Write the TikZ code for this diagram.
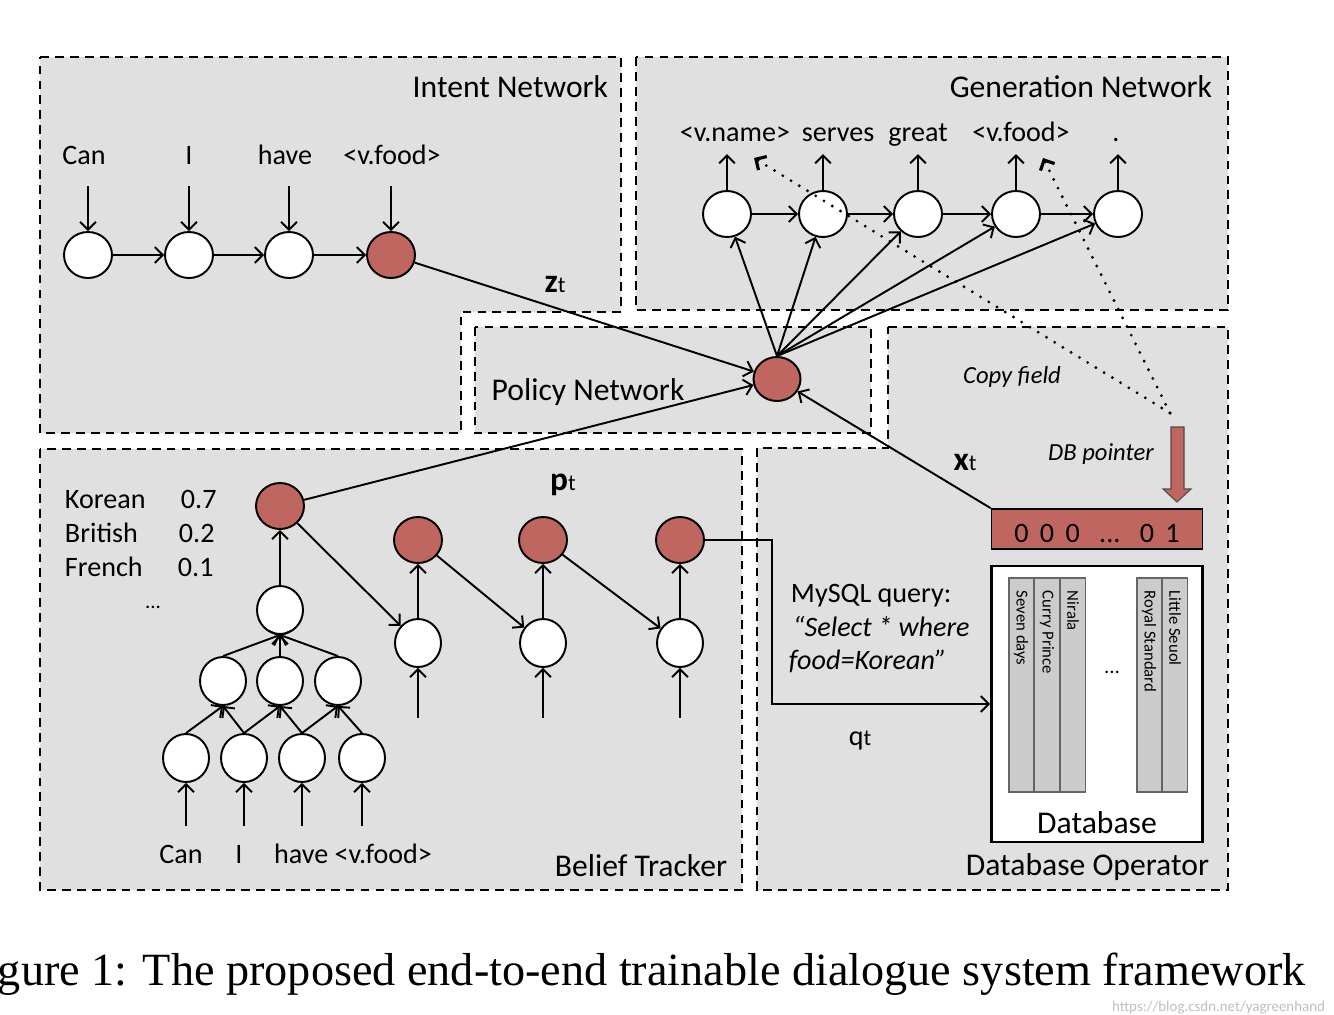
\documentclass[tikz,border=0pt]{standalone}
\usepackage{fontspec}
\setmainfont{Carlito}
\newfontfamily\captionfont{Liberation Serif}
\usetikzlibrary{arrows.meta,shapes.geometric}
\definecolor{nodered}{RGB}{192,102,96}
\definecolor{regiongray}{RGB}{224,224,224}
\definecolor{columngray}{RGB}{204,204,204}
\newcommand\timelab[1]{{\bfseries\fontsize{19}{21}\selectfont #1}{\fontsize{13}{15}\selectfont t}}
\tikzset{
  region/.style={fill=regiongray,draw=black,line width=1.1pt,dash pattern=on 5pt off 3.5pt},
  rnn/.style={ellipse,draw,fill=white,line width=1.1pt,minimum width=0.96cm,minimum height=0.92cm,inner sep=0pt},
  rnnred/.style={rnn,fill=nodered},
  tall/.style={minimum width=0.92cm,minimum height=0.96cm},
  title/.style={inner sep=0pt,anchor=base,font=\fontsize{18}{21}\selectfont},
  word/.style={inner sep=0pt,anchor=base,font=\fontsize{16}{19}\selectfont},
  remark/.style={inner sep=0pt,anchor=base,font=\fontsize{14}{17}\selectfont\itshape},
  colname/.style={rotate=-90,anchor=west,inner sep=0pt,font=\fontsize{9.5}{11}\selectfont},
  dbcolumn/.style={fill=columngray,draw=black!60,line width=0.6pt},
  copyline/.style={dash pattern=on 0pt off 5.5pt,line cap=round,line width=1.8pt},
}
\begin{document}
\begin{tikzpicture}[x=0.02cm,y=-0.02cm,line width=1.1pt,>={Straight Barb[length=4.5pt,width=9pt]}]
  \useasboundingbox (0,0) rectangle (1334,1014);
  \fill[white] (0,0) rectangle (1334,1014);

  \path[region] (40,57) -- (621,57) -- (621,312) -- (461,312) -- (461,433) -- (40,433) -- cycle;
  \path[region] (636,57) rectangle (1228,310);
  \path[region] (475,327) rectangle (871,433);
  \path[region] (888,327) -- (1228,327) -- (1228,890) -- (757,890) -- (757,448) -- (888,448) -- cycle;
  \path[region] (40,449) rectangle (742,890);

  \begin{scope}[every node/.style=title]
    \node[anchor=base east] (intent) at (609,97) {Intent Network};
    \node[anchor=base east] (generation) at (1213,97) {Generation Network};
    \node (policy) at (588,400) {Policy Network};
    \node[anchor=base east] (belief) at (728,876) {Belief Tracker};
    \node[anchor=base east] (operator) at (1210,875) {Database Operator};
  \end{scope}

  \begin{scope}[every node/.style=rnn]
    \node (i1) at (88,255) {};
    \node (i2) at (189,255) {};
    \node (i3) at (289,255) {};
    \node[rnnred] (i4) at (391,255) {};
    \node (g1) at (727,214) {};
    \node (g2) at (823,214) {};
    \node (g3) at (918,214) {};
    \node (g4) at (1016,214) {};
    \node (g5) at (1118,214) {};
    \node[rnnred,minimum width=0.94cm,minimum height=0.88cm] (p) at (777,379) {};
  \end{scope}

  \begin{scope}[every node/.style={rnn,tall}]
    \node (t1) at (186,758) {};
    \node (t2) at (244,758) {};
    \node (t3) at (302,758) {};
    \node (t4) at (362,758) {};
    \node (m1) at (223,681) {};
    \node (m2) at (280,681) {};
    \node (m3) at (338,681) {};
    \node (r0) at (280,610) {};
    \node[rnnred] (s1) at (280,506) {};
    \node[rnnred] (s2) at (418,540) {};
    \node[rnnred] (s3) at (543,540) {};
    \node[rnnred] (s4) at (680,540) {};
    \node (u1) at (418,643) {};
    \node (u2) at (543,643) {};
    \node (u3) at (680,643) {};
  \end{scope}

  \begin{scope}[every node/.style=word]
    \node (wi1) at (84,164) {Can};
    \node (wi2) at (189,164) {I};
    \node (wi3) at (285,164) {have};
    \node (wi4) at (392,164) {<v.food>};
    \node (wg1) at (735,141) {<v.name>};
    \node (wg2) at (838,141) {serves};
    \node (wg3) at (918,141) {great};
    \node (wg4) at (1021,141) {<v.food>};
    \node (wg5) at (1116,141) {.};
    \node (wb1) at (181,863) {Can};
    \node (wb2) at (239,863) {I};
    \node (wb3) at (353,863) {have <v.food>};
    \node[anchor=base west] (k1) at (64,508) {Korean};
    \node[anchor=base west] (k2) at (64,542) {British};
    \node[anchor=base west] (k3) at (64,576) {French};
    \node[anchor=base west] (v1) at (180,508) {0.7};
    \node[anchor=base west] (v2) at (178,542) {0.2};
    \node[anchor=base west] (v3) at (177,576) {0.1};
    \node[font=\fontsize{12}{14}\selectfont] (kdots) at (153,608) {...};
    \node[anchor=base west] (q1) at (790,602) {MySQL query:};
    \node[anchor=base west,font=\fontsize{16}{19}\selectfont\itshape] (q2) at (792,636) {“Select * where};
    \node[anchor=base west,font=\fontsize{16}{19}\selectfont\itshape] (q3) at (788,669) {food=Korean”};
    \node (zt) at (555,292) {\timelab{z}};
    \node (pt) at (563,490) {\timelab{p}};
    \node (xt) at (965,470) {\timelab{x}};
    \node (qt) at (860,745) {q{\fontsize{13}{15}\selectfont t}};
  \end{scope}

  \node[remark] (copy) at (1012,383) {Copy field};
  \node[remark] (pointer) at (1101,460) {DB pointer};

  \node[draw,fill=white,line width=1.6pt,minimum width=4.22cm,minimum height=5.52cm] (db) at (1097,704) {};
  \foreach \x in {1009,1034,1060,1137,1162}
    \path[dbcolumn] (\x,578) rectangle ++(25.5,214);
  \begin{scope}[every node/.style=colname]
    \node (c1) at (1021,590) {Seven days};
    \node (c2) at (1047,590) {Curry Prince};
    \node (c3) at (1073,590) {Nirala};
    \node (c4) at (1149,590) {Royal Standard};
    \node (c5) at (1175,590) {Little Seuol};
  \end{scope}
  \node[font=\fontsize{12}{14}\selectfont] (dbdots) at (1112,672) {...};
  \node[title] (dblabel) at (1097,833) {Database};

  \node[draw,fill=nodered,line width=0.9pt,minimum width=4.22cm,minimum height=0.8cm,inner sep=0pt] (dbp) at (1097,529) {};
  \node[word] (bits) at (1097,542) {0\hspace{6.5pt}0\hspace{6.5pt}0\hspace{11pt}...\hspace{11pt}0\hspace{6.5pt}1};
  \filldraw[fill=nodered,draw=black!70,line width=0.6pt] (1171,427) -- (1184,427) -- (1184,489) -- (1191,489) -- (1177,502) -- (1163,489) -- (1171,489) -- cycle;

  \coordinate (cf) at (1170,413);
  \coordinate (cv1) at (754,158);
  \coordinate (cv2) at (1043,158);
  \coordinate (qbend) at (772,620);

  \begin{scope}[every edge/.style={draw,->}]
    \path (i1) edge (i2) (i2) edge (i3) (i3) edge (i4);
    \path (g1) edge (g2) (g2) edge (g3) (g3) edge (g4) (g4) edge (g5);
    \foreach \n in {1,...,4}
      \path ([yshift=0.9cm]i\n.north) edge (i\n.north);
    \foreach \n in {1,...,5}
      \path (g\n.north) edge ([yshift=0.72cm]g\n.north);
    \foreach \n in {1,...,5}
      \path (p.north) edge (g\n);
    \path (i4) edge (p);
    \path (s1) edge (p);
    \path (dbp.north west) edge (p);

    \foreach \n in {1,...,4}
      \path ([yshift=-0.86cm]t\n.south) edge (t\n.south);
    \path (t1.north) edge (m1.south) (t2.north) edge (m1.south)
          (t2.north) edge (m2.south) (t3.north) edge (m2.south)
          (t3.north) edge (m3.south) (t4.north) edge (m3.south);
    \path (m1.north) edge (r0.south) (m2.north) edge (r0.south) (m3.north) edge (r0.south);
    \path (r0) edge (s1);
    \path (s1) edge (u1) (u1) edge (s2) (s2) edge (u2) (u2) edge (s3) (s3) edge (u3) (u3) edge (s4);
    \foreach \n in {1,2,3}
      \path ([yshift=-1cm]u\n.south) edge (u\n.south);

    \path[copyline] (cf) edge (cv1) (cf) edge (cv2);
  \end{scope}

  \draw[->] (s4.east) -| (qbend) |- (db.west);

  \node[anchor=base west,inner sep=0pt,font=\captionfont\fontsize{26.3}{30}\selectfont] (caption) at (-3,985)
    {gure 1: The proposed end-to-end trainable dialogue system framework};
  \node[anchor=base east,inner sep=0pt,text=black!25,font=\fontsize{8.5}{10}\selectfont] (mark) at (1326,1011)
    {https://blog.csdn.net/yagreenhand};
\end{tikzpicture}
\end{document}
